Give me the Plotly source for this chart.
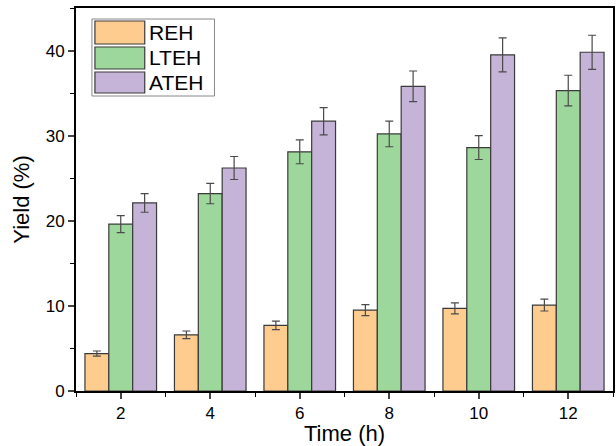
import plotly.graph_objects as go

time_h = [2, 4, 6, 8, 10, 12]
series_names = ["REH", "LTEH", "ATEH"]
reh = [4.4, 6.6, 7.7, 9.5, 9.7, 10.1]
reh_err = [0.3, 0.45, 0.5, 0.65, 0.65, 0.7]
lteh = [19.6, 23.2, 28.1, 30.2, 28.6, 35.3]
lteh_err = [1.0, 1.2, 1.4, 1.5, 1.4, 1.8]
ateh = [22.1, 26.2, 31.7, 35.8, 39.5, 39.8]
ateh_err = [1.1, 1.35, 1.6, 1.8, 2.0, 2.0]
colors = ["#FFCC8F", "#9ED79B", "#C5B3D8"]

fig = go.Figure()
for name, vals, errs, col in zip(series_names, [reh, lteh, ateh], [reh_err, lteh_err, ateh_err], colors):
    fig.add_trace(go.Bar(
        x=time_h, y=vals, name=name,
        marker=dict(color=col, line=dict(color="#3a3a3a", width=1.2)),
        error_y=dict(type="data", array=errs, visible=True, color="#4a4a4a", thickness=1.2, width=4),
        showlegend=False,
    ))

# custom legend (large swatches like the original)
lx0, lx1 = 92, 215
ly0, ly1 = 19, 96
W, H = 616, 446
ml, mr, mt, mb = 76, 1, 8, 55
pw, ph = W - ml - mr, H - mt - mb

def px(x):
    return (x - ml) / pw

def py(y):
    return 1 - (y - mt) / ph

shapes = [dict(type="rect", xref="paper", yref="paper", x0=px(lx0), x1=px(lx1), y0=py(ly1), y1=py(ly0),
               line=dict(color="#888888", width=1), fillcolor="white", layer="above")]
annots = []
rows = [(21, 44), (47, 69), (72, 93)]
for (t, b), name, col in zip(rows, series_names, colors):
    shapes.append(dict(type="rect", xref="paper", yref="paper", x0=px(95), x1=px(145), y0=py(b), y1=py(t),
                       line=dict(color="#3a3a3a", width=1.2), fillcolor=col, layer="above"))
    annots.append(dict(xref="paper", yref="paper", x=px(147), y=py((t + b) / 2), text=name, showarrow=False,
                       xanchor="left", yanchor="middle", font=dict(size=21, color="black", family="Liberation Sans")))

fig.update_layout(
    width=W, height=H,
    margin=dict(l=ml, r=mr, t=mt, b=mb),
    paper_bgcolor="white", plot_bgcolor="white",
    barmode="group", bargap=0.2, bargroupgap=0,
    font=dict(family="Liberation Sans", size=17, color="black"),
    shapes=shapes, annotations=annots,
    xaxis=dict(range=[1, 13], tickvals=time_h, ticks="outside", ticklen=6, tickwidth=1.5,
               minor=dict(dtick=1, tick0=1, ticks="outside", ticklen=4, tickwidth=1.2, tickcolor="black"),
               showline=True, linecolor="black", linewidth=2, mirror=True, showgrid=False,
               title=dict(text="Time (h)", font=dict(size=22), standoff=4), tickfont=dict(size=17)),
    yaxis=dict(range=[0, 45], tickvals=[0, 10, 20, 30, 40], ticks="outside", ticklen=6, tickwidth=1.5,
               minor=dict(dtick=5, tick0=0, ticks="outside", ticklen=4, tickwidth=1.2, tickcolor="black"),
               showline=True, linecolor="black", linewidth=2, mirror=True, showgrid=False, zeroline=False,
               title=dict(text="Yield (%)", font=dict(size=22), standoff=10), tickfont=dict(size=17)),
)

fig.write_html("out.html")
